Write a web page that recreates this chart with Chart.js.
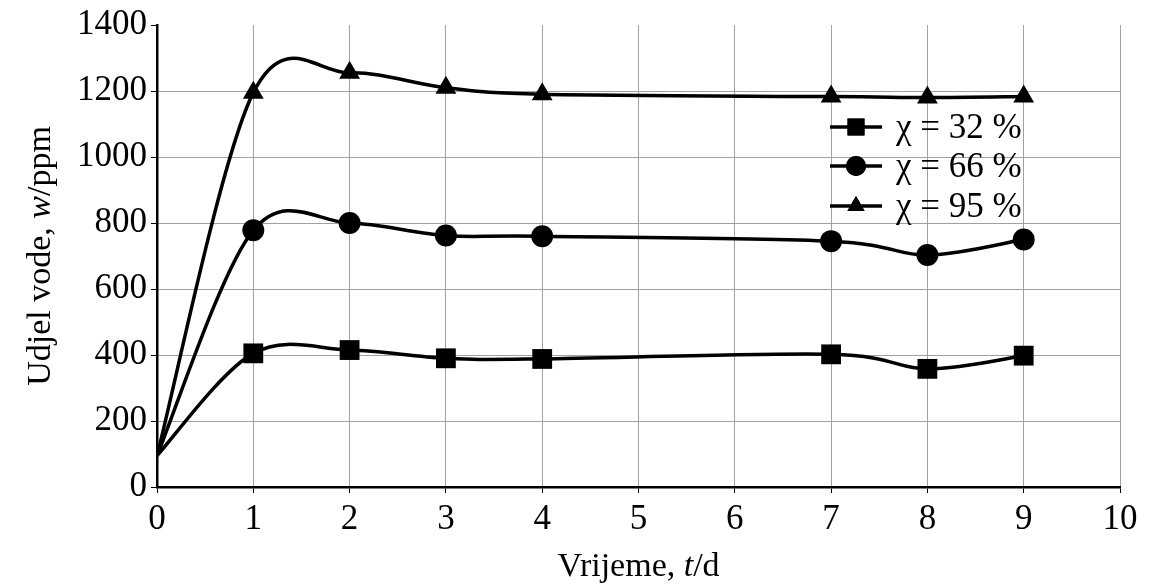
<!DOCTYPE html>
<html>
<head>
<meta charset="utf-8">
<script src="https://cdn.jsdelivr.net/npm/chart.js@4/dist/chart.umd.min.js"></script>
<style>
  html, body { margin: 0; padding: 0; background: #fff; }
  #wrap { width: 1155px; height: 586px; }
</style>
</head>
<body>
<div id="wrap"><canvas id="c"></canvas></div>
<script>
// days of measurement
const days = [0, 1, 2, 3, 4, 7, 8, 9];
// water content, ppm
const w32 = [95, 405, 415, 390, 388, 402, 358, 398];
const w66 = [95, 778, 800, 762, 760, 745, 703, 750];
const w95 = [95, 1195, 1255, 1210, 1190, 1183, 1180, 1183];
const seriesLabels = ['χ = 32 %', 'χ = 66 %', 'χ = 95 %'];
const markers = ['rect', 'circle', 'triangle'];
const xTicks = [0, 1, 2, 3, 4, 5, 6, 7, 8, 9, 10];
const yTicks = [0, 200, 400, 600, 800, 1000, 1200, 1400];

const FONT = '"Liberation Serif", "DejaVu Serif", serif';

function pts(vals) {
  return vals.map((v, i) => ({ x: days[i], y: v }));
}

const radii = { rect: 14, circle: 11, triangle: 12 };

const datasets = [w32, w66, w95].map((vals, i) => ({
  label: seriesLabels[i],
  data: pts(vals),
  borderColor: '#000',
  backgroundColor: '#000',
  borderWidth: 3.5,
  pointStyle: markers[i],
  // no marker on the starting value
  pointRadius: vals.map((v, j) => j === 0 ? 0 : radii[markers[i]]),
  pointBorderWidth: 0,
  tension: 0.4
}));

// spreadsheet-style smoothing (uniform catmull-rom) instead of chart.js' weighted one
const K = 1 / 6;
const smooth = {
  id: 'smooth',
  beforeDatasetDraw(chart, args) {
    const meta = args.meta;
    const p = meta.data;
    const n = p.length;
    for (let i = 0; i < n; i++) {
      const a = p[Math.max(i - 1, 0)], b = p[Math.min(i + 1, n - 1)];
      const tx = (b.x - a.x) * K, ty = (b.y - a.y) * K;
      p[i].cp1x = p[i].x - tx; p[i].cp1y = p[i].y - ty;
      p[i].cp2x = p[i].x + tx; p[i].cp2y = p[i].y + ty;
    }
    meta.dataset._pointsUpdated = true;
    meta.dataset._path = undefined;
  }
};

// axis titles with italic symbols, and the legend inside the plot
const extras = {
  id: 'extras',
  afterDraw(chart) {
    const ctx = chart.ctx;
    const a = chart.chartArea;
    ctx.save();
    ctx.fillStyle = '#000';
    ctx.textBaseline = 'alphabetic';

    function mixed(parts, size) {
      let w = 0;
      parts.forEach(p => {
        ctx.font = (p[1] ? 'italic ' : '') + size + 'px ' + FONT;
        w += ctx.measureText(p[0]).width;
      });
      return w;
    }
    function drawMixed(parts, size, x, y) {
      let cx = x;
      parts.forEach(p => {
        ctx.font = (p[1] ? 'italic ' : '') + size + 'px ' + FONT;
        ctx.textAlign = 'left';
        ctx.fillText(p[0], cx, y);
        cx += ctx.measureText(p[0]).width;
      });
    }

    // x title
    const xt = [['Vrijeme, ', false], ['t', true], ['/d', false]];
    const xw = mixed(xt, 34);
    drawMixed(xt, 34, (a.left + a.right) / 2 - xw / 2, 576);

    // y title
    const yt = [['Udjel vode, ', false], ['w', true], ['/ppm', false]];
    const yw = mixed(yt, 34);
    ctx.save();
    ctx.translate(50, (a.top + a.bottom) / 2);
    ctx.rotate(-Math.PI / 2);
    drawMixed(yt, 34, -yw / 2, 0);
    ctx.restore();

    // legend
    const lx = 830, rows = [127, 166, 206];
    chart.data.datasets.forEach((ds, i) => {
      const y = rows[i];
      ctx.strokeStyle = '#000';
      ctx.lineWidth = 3.5;
      ctx.beginPath();
      ctx.moveTo(lx, y);
      ctx.lineTo(lx + 52, y);
      ctx.stroke();
      Chart.helpers.drawPoint(ctx, {
        pointStyle: ds.pointStyle,
        radius: ds.pointStyle === 'rect' ? 12 : 10,
        rotation: 0,
        borderWidth: 0
      }, lx + 26, y);
      ctx.fill();
      ctx.font = '35px ' + FONT;
      ctx.textAlign = 'left';
      ctx.textBaseline = 'middle';
      ctx.fillText(ds.label, lx + 66, y + 2);
    });
    ctx.restore();
  }
};

new Chart(document.getElementById('c'), {
  type: 'line',
  data: { datasets },
  plugins: [smooth, extras],
  options: {
    responsive: true,
    maintainAspectRatio: false,
    animation: false,
    layout: { padding: { top: 22, right: 35, left: 0, bottom: 0 } },
    plugins: { legend: { display: false }, tooltip: { enabled: false } },
    scales: {
      x: {
        type: 'linear',
        min: 0,
        max: 10,
        afterBuildTicks: s => { s.ticks = xTicks.map(v => ({ value: v })); },
        afterFit: s => { s.height = 99; },
        ticks: { color: '#000', font: { family: FONT, size: 35 }, padding: 6, maxRotation: 0,
                 callback: v => String(v) },
        grid: { color: '#a0a0a0', lineWidth: 1, tickLength: 6, tickColor: '#000' },
        border: { color: '#000', width: 2.5 }
      },
      y: {
        min: 0,
        max: 1400,
        afterBuildTicks: s => { s.ticks = yTicks.map(v => ({ value: v })); },
        afterFit: s => { s.width = 157; },
        ticks: { color: '#000', font: { family: FONT, size: 35 }, padding: 4,
                 callback: v => String(v) },
        grid: {
          color: ctx => ctx.tick && ctx.tick.value === 1400 ? 'rgba(0,0,0,0)' : '#a0a0a0',
          lineWidth: 1, tickLength: 6, tickColor: '#000'
        },
        border: { color: '#000', width: 2.5 }
      }
    }
  }
});
</script>
</body>
</html>
